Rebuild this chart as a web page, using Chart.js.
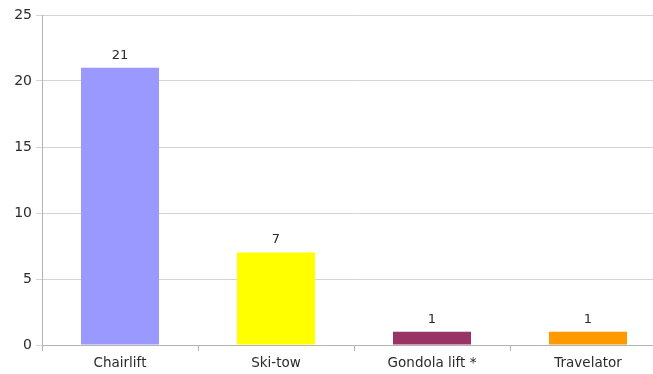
<!DOCTYPE html>
<html>
<head>
<meta charset="utf-8">
<script src="https://cdn.jsdelivr.net/npm/chart.js@4.4.0/dist/chart.umd.min.js"></script>
<style>
  html, body { margin: 0; padding: 0; background: #fff; overflow: hidden; }
  #wrap { width: 666px; height: 374px; position: relative; }
</style>
</head>
<body>
<div id="wrap"><canvas id="liftChart"></canvas></div>
<script>
// === DATA ===
const categories = ["Chairlift", "Ski-tow", "Gondola lift *", "Travelator"];
const liftCounts = [21, 7, 1, 1];
const barColors = ["#9999ff", "#ffff00", "#993366", "#ff9900"];
const yTicks = [0, 5, 10, 15, 20, 25];

const FONT = "'DejaVu Sans', sans-serif";
const TEXT_COLOR = "#2b2b2b";

// value labels above each bar
const valueLabels = {
  id: "valueLabels",
  afterDatasetsDraw(chart) {
    const { ctx } = chart;
    const meta = chart.getDatasetMeta(0);
    ctx.save();
    ctx.fillStyle = TEXT_COLOR;
    ctx.font = "13px " + FONT;
    ctx.textAlign = "center";
    ctx.textBaseline = "bottom";
    meta.data.forEach((bar, i) => {
      ctx.fillText(String(chart.data.datasets[0].data[i]), bar.x, bar.y - 6);
    });
    ctx.restore();
  },
};

const ctx = document.getElementById("liftChart").getContext("2d");

new Chart(ctx, {
  type: "bar",
  data: {
    labels: categories,
    datasets: [
      {
        data: liftCounts,
        backgroundColor: barColors,
        borderWidth: 0,
        barPercentage: 0.5,
        categoryPercentage: 1,
      },
    ],
  },
  options: {
    responsive: true,
    maintainAspectRatio: false,
    animation: false,
    layout: { padding: { top: 15, right: 0, left: 0, bottom: 0 } },
    plugins: {
      legend: { display: false },
      tooltip: { enabled: false },
    },
    scales: {
      x: {
        offset: true,
        grid: {
          offset: true,
          drawOnChartArea: false,
          color: "#b3b3b3",
          tickLength: 6,
        },
        border: { color: "#b3b3b3" },
        ticks: { color: TEXT_COLOR, font: { family: FONT, size: 13.5 }, padding: 4 },
        afterFit(scale) { scale.height = 29; },
      },
      y: {
        min: 0,
        max: 25,
        afterBuildTicks(scale) { scale.ticks = yTicks.map((v) => ({ value: v })); },
        grid: { color: "#d4d4d4", tickLength: 6 },
        border: { color: "#b3b3b3" },
        ticks: { color: TEXT_COLOR, font: { family: FONT, size: 14 }, padding: 4 },
        afterFit(scale) { scale.width = 42; },
      },
    },
  },
  plugins: [valueLabels],
});
</script>
</body>
</html>
